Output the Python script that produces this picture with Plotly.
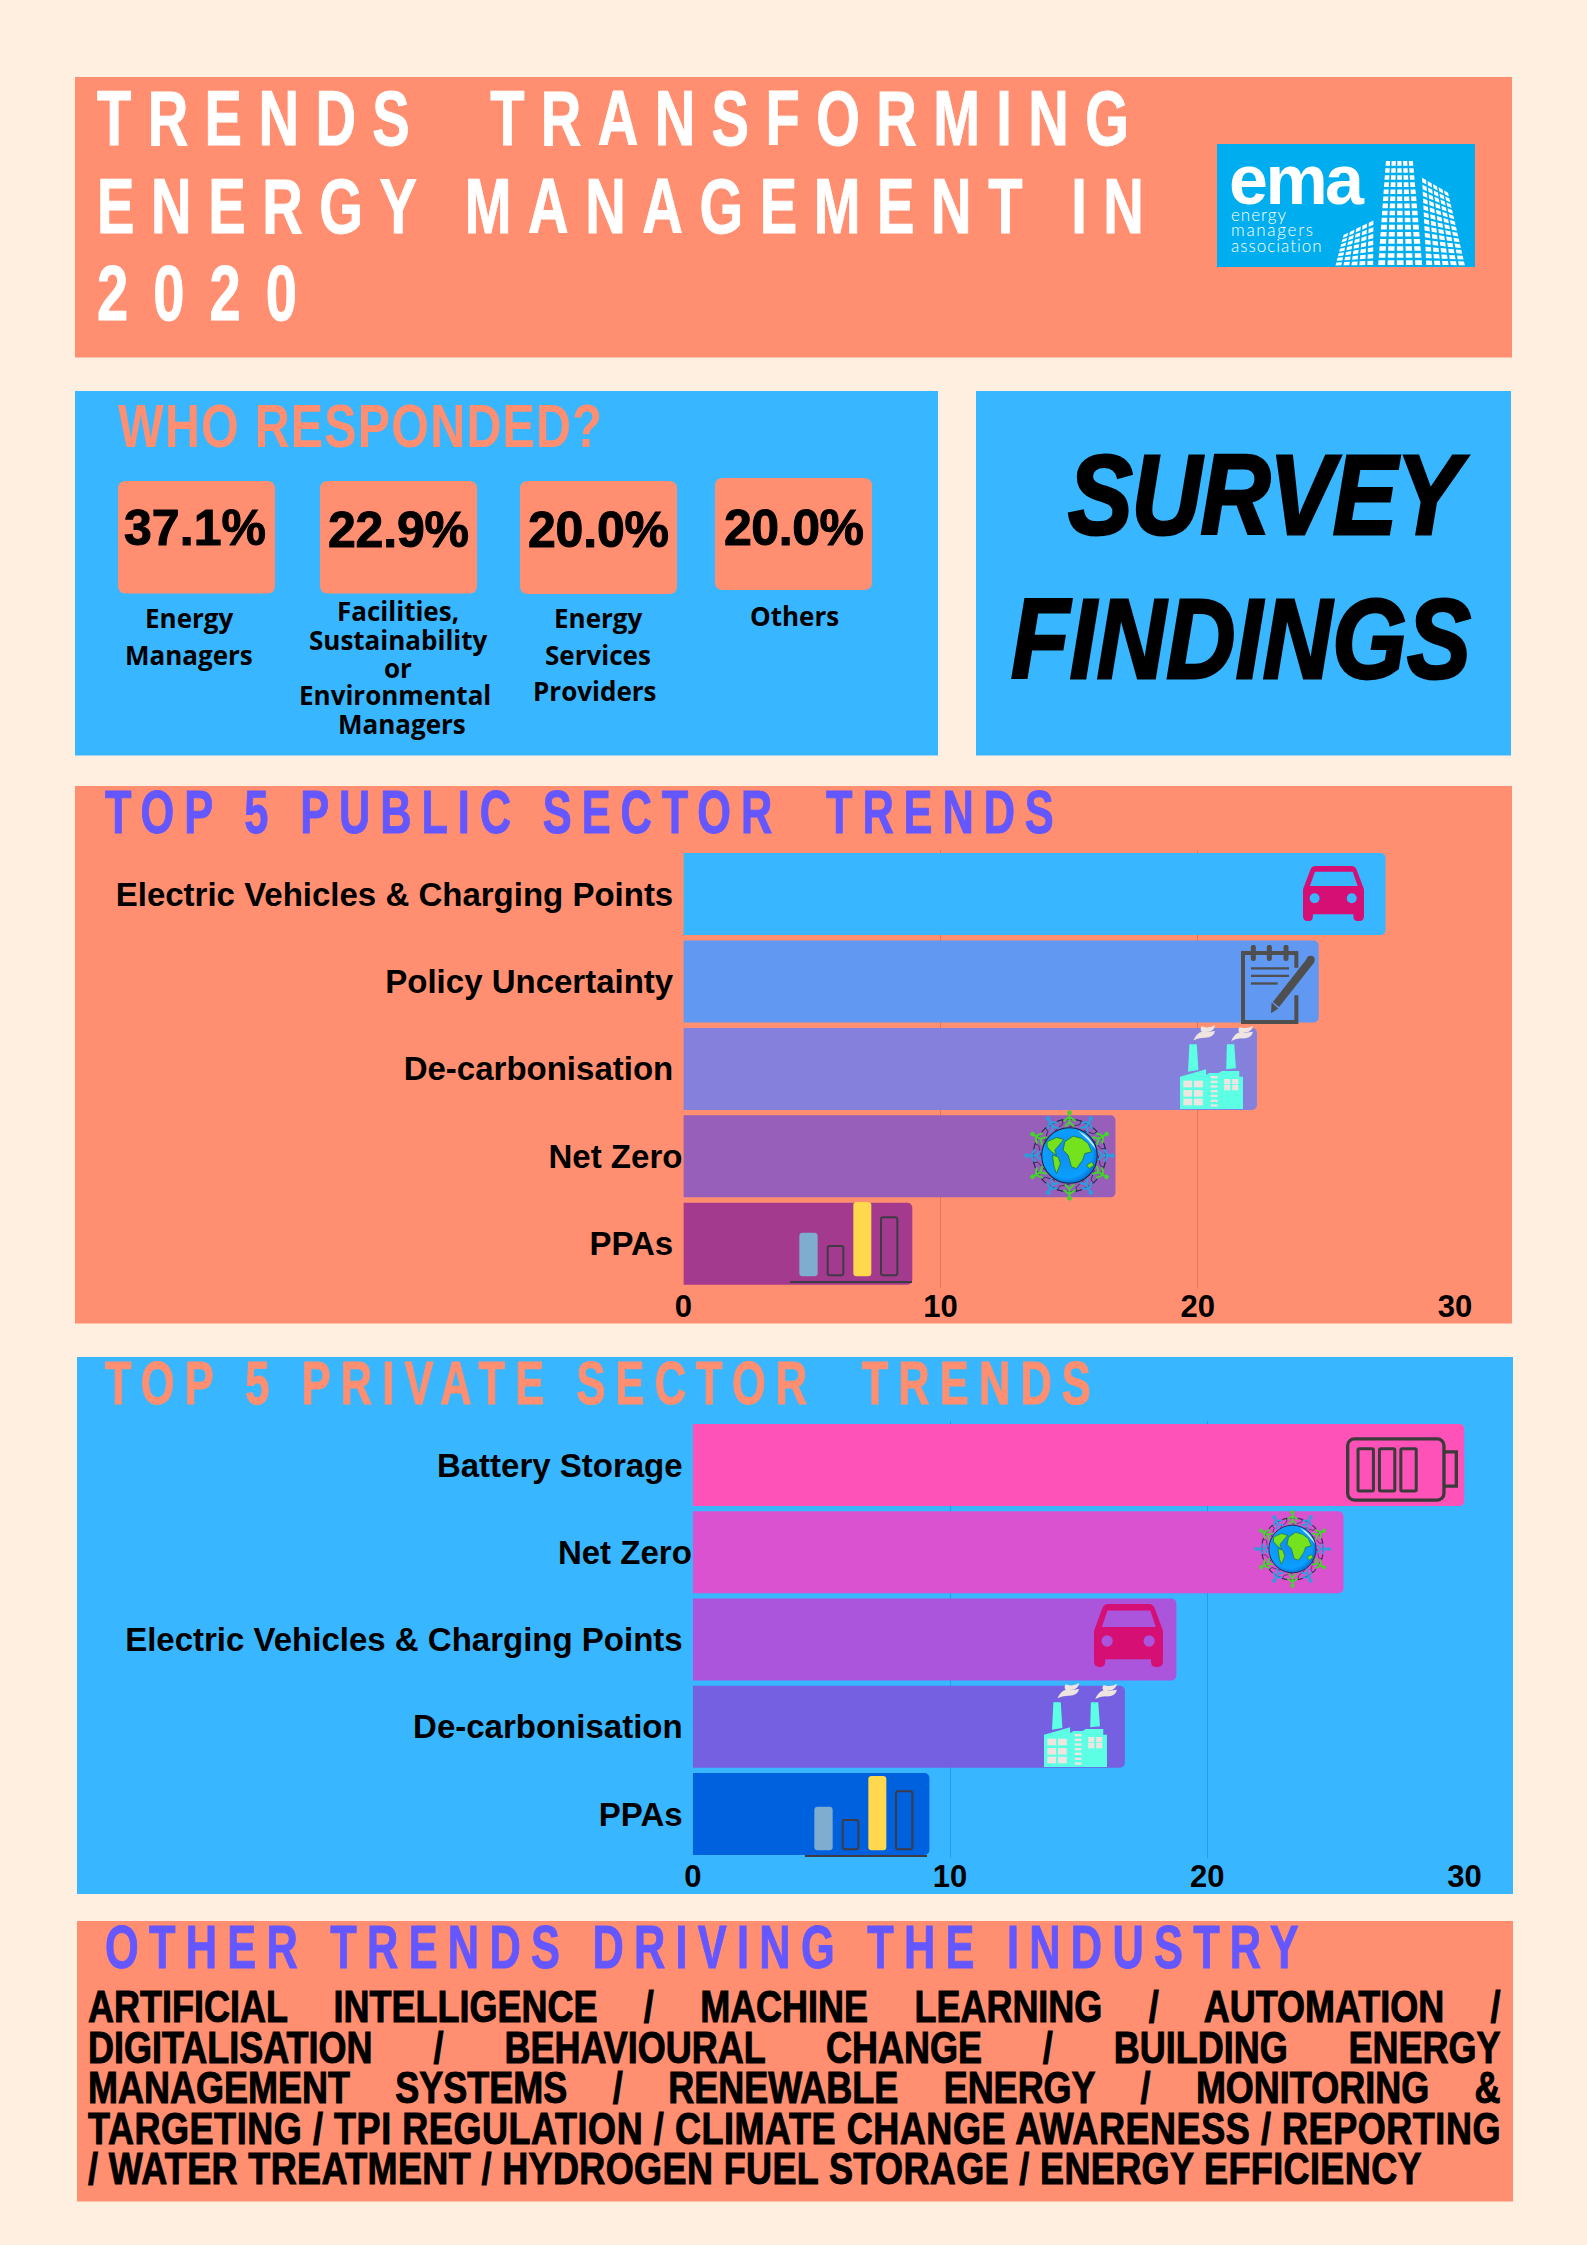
import base64
import json
import plotly.graph_objects as go

W, H = 1587, 2245
CREAM = "#FFEFE0"
CORAL = "#FF8F70"
SKY = "#38B6FF"
VIOLET = "#6457FF"
SANS = "Liberation Sans"
OPEN = "Open Sans"

# survey values
public_trends = ["Electric Vehicles & Charging Points\u00a0", "Policy Uncertainty\u00a0",
                 "De-carbonisation\u00a0", "Net Zero", "PPAs\u00a0"]
public_values = [27.3, 24.7, 22.3, 16.8, 8.9]
public_colors = ["#38B6FF", "#6199F2", "#8480DC", "#975FB9", "#A33A8D"]

private_trends = ["Battery Storage\u00a0", "Net Zero", "Electric Vehicles & Charging Points\u00a0",
                  "De-carbonisation\u00a0", "PPAs\u00a0"]
private_values = [30.0, 25.3, 18.8, 16.8, 9.2]
private_colors = ["#FF52B8", "#DB52D1", "#AB55DC", "#7460E1", "#0061DF"]

x_ticks = [0, 10, 20, 30]

respondent_shares = ["37.1%", "22.9%", "20.0%", "20.0%"]
title_lines = ["TRENDS \u00a0TRANSFORMING", "ENERGY MANAGEMENT IN", "2020"]
other_trends = ["ARTIFICIAL INTELLIGENCE / MACHINE LEARNING / AUTOMATION /",
                "DIGITALISATION / BEHAVIOURAL CHANGE / BUILDING ENERGY",
                "MANAGEMENT SYSTEMS / RENEWABLE ENERGY / MONITORING &",
                "TARGETING / TPI REGULATION / CLIMATE CHANGE AWARENESS / REPORTING",
                "/ WATER TREATMENT / HYDROGEN FUEL STORAGE / ENERGY EFFICIENCY"]


def px(x):
    return x / W


def py(y):
    return 1 - y / H


annotations = []
fits = {}


def label(s, x, y, size, color="#000000", family=SANS, anchor="left", italic=False, weight="bold",
          width=None, mode="letter", stroke=0, squeeze=1):
    # x, y in page pixels, y is the middle of the capitals
    if width or stroke:
        fits[len(annotations)] = {"w": width, "mode": mode, "stroke": stroke, "color": color, "sx": squeeze}
    annotations.append(dict(text=s, x=px(x), y=py(y), xref="paper", yref="paper", showarrow=False,
                            xanchor=anchor, yanchor="middle", align=anchor, borderpad=0, borderwidth=0,
                            font=dict(family=family, size=size, color=color, weight=weight,
                                      style="italic" if italic else "normal")))


shapes = []


def panel(x0, y0, x1, y1, color):
    shapes.append(dict(type="rect", xref="paper", yref="paper", x0=px(x0), x1=px(x1), y0=py(y0), y1=py(y1),
                       fillcolor=color, line_width=0, layer="below"))


def round_box(x0, y0, x1, y1, color, r=8):
    d = (f"M{px(x0 + r)},{py(y0)} L{px(x1 - r)},{py(y0)} Q{px(x1)},{py(y0)} {px(x1)},{py(y0 + r)} "
         f"L{px(x1)},{py(y1 - r)} Q{px(x1)},{py(y1)} {px(x1 - r)},{py(y1)} "
         f"L{px(x0 + r)},{py(y1)} Q{px(x0)},{py(y1)} {px(x0)},{py(y1 - r)} "
         f"L{px(x0)},{py(y0 + r)} Q{px(x0)},{py(y0)} {px(x0 + r)},{py(y0)} Z")
    shapes.append(dict(type="path", path=d, xref="paper", yref="paper", fillcolor=color, line_width=0, layer="below"))


# ---- icons, drawn as small svg files -----
def svg(w, h, body):
    return (f'<svg xmlns="http://www.w3.org/2000/svg" width="{w}" height="{h}" viewBox="0 0 {w} {h}" '
            f'preserveAspectRatio="none">{body}</svg>')


def car_svg():
    body = ('<path fill-rule="evenodd" fill="#D60F74" d="M38 0 H146 Q158 0 162 12 L184 70 V150 Q184 165 170 165 H164 '
            'Q152 165 152 150 V145 H30 V150 Q30 165 18 165 H14 Q0 165 0 150 V70 L22 12 Q26 0 38 0 Z '
            'M36 17 L21 60 H165 L150 17 Z '
            'M20 97 A15 15 0 1 0 50 97 A15 15 0 1 0 20 97 Z M132 97 A15 15 0 1 0 162 97 A15 15 0 1 0 132 97 Z"/>')
    return svg(184, 165, body)


def notepad_svg():
    c = "#4F4F4F"
    body = (f'<path d="M166 68 V24 H6 V230 H166 V150" fill="none" stroke="{c}" stroke-width="12"/>')
    for sx in (37, 85, 135):
        body += f'<line x1="{sx}" y1="7" x2="{sx}" y2="40" stroke="{c}" stroke-width="15" stroke-linecap="round"/>'
    for x2, ly in ((144, 70), (144, 92), (110, 115)):
        body += f'<line x1="30" y1="{ly}" x2="{x2}" y2="{ly}" stroke="{c}" stroke-width="7"/>'
    body += (f'<line x1="210" y1="45" x2="105" y2="178" stroke="{c}" stroke-width="24"/>'
             f'<circle cx="209" cy="44" r="12" fill="{c}"/>'
             f'<path d="M92 172 L112 190 L90 204 Z" fill="{c}"/>')
    return svg(228, 236, body)


def factory_svg():
    cy, wh = "#5CFFE3", "#EEE5E0"
    body = (f'<path fill="{cy}" d="M0 155 L78 133 V150 L88 144 H115 L125 138 H177 V155 H188 V252 H0 Z"/>'
            f'<path fill="{cy}" d="M28 58 H50 L55 135 L24 140 Z M140 58 H162 L167 130 L138 133 Z"/>')
    for wx in (10, 42):
        for wy in (167, 195, 221):
            body += f'<rect x="{wx}" y="{wy}" width="26" height="20" fill="{wh}"/>'
    for wx in (132, 156):
        for wy in (162, 180):
            body += f'<rect x="{wx}" y="{wy}" width="18" height="16" fill="{wh}"/>'
    for wy in (153, 167, 181, 195, 209, 224, 238):
        body += f'<rect x="92" y="{wy}" width="20" height="7" fill="{wh}"/>'
    for ox, oy in ((40, 0), (153, 2)):
        body += (f'<path fill="{wh}" transform="translate({ox},{oy})" d="M25 4 Q45 12 65 0 Q62 18 44 20 Q38 20 35 22 '
                 f'L65 18 Q60 40 30 38 Q14 38 0 46 Q10 24 25 20 Q18 14 25 4 Z"/>')
    return svg(218, 252, body)


def chart_svg():
    k = "#3F3B45"
    body = (f'<rect x="28" y="92" width="55" height="131" rx="10" fill="#7FADCF"/>'
            f'<rect x="113" y="132" width="47" height="88" rx="6" fill="none" stroke="{k}" stroke-width="6"/>'
            f'<rect x="190" y="0" width="54" height="223" rx="10" fill="#FFD84D"/>'
            f'<rect x="273" y="46" width="49" height="174" rx="6" fill="none" stroke="{k}" stroke-width="6"/>'
            f'<line x1="0" y1="240" x2="366" y2="240" stroke="{k}" stroke-width="6"/>')
    return svg(366, 243, body)


def battery_svg():
    k = "#3B3B3B"
    body = (f'<rect x="8" y="9" width="288" height="188" rx="20" fill="none" stroke="{k}" stroke-width="10"/>'
            f'<path d="M298 49 H333 V154 H298" fill="none" stroke="{k}" stroke-width="10"/>')
    for cx in (39, 103, 167):
        body += f'<rect x="{cx}" y="39" width="46" height="130" rx="4" fill="none" stroke="{k}" stroke-width="9"/>'
    return svg(338, 206, body)


def globe_svg():
    cx, cy = 139, 136
    body = ('<defs><radialGradient id="g" cx="45%" cy="45%" r="60%"><stop offset="0%" stop-color="#0F8CF0"/>'
            '<stop offset="75%" stop-color="#0A9FFF"/><stop offset="100%" stop-color="#0060C8"/></radialGradient></defs>')
    for i in range(12):
        a = i * 30
        col = "#2A9FE0" if i % 2 else "#45D42E"
        t = f'transform="rotate({a} {cx} {cy})"'
        body += (f'<g {t}><g fill="none" stroke="#15233A" stroke-width="2">'
                 f'<path d="M{cx} {cy - 108} L{cx + 36} {cy - 104} L{cx + 30} {cy - 92} L{cx} {cy - 86}"/>'
                 f'<path d="M{cx} {cy - 108} L{cx - 36} {cy - 104}"/></g>'
                 f'<g stroke="{col}" stroke-width="6" fill="none" stroke-linecap="round">'
                 f'<path d="M{cx} {cy - 126} V{cy - 100} M{cx} {cy - 116} L{cx + 16} {cy - 104} M{cx} {cy - 116} L{cx - 16} {cy - 104}'
                 f' M{cx} {cy - 100} L{cx + 12} {cy - 88} M{cx} {cy - 100} L{cx - 12} {cy - 88}"/></g>'
                 f'<circle cx="{cx}" cy="{cy - 128}" r="7" fill="{col}"/></g>')
    body += f'<circle cx="{cx}" cy="{cy}" r="83" fill="url(#g)" stroke="#15233A" stroke-width="3"/>'
    land = ["M72 95 L100 82 L122 88 L108 105 L95 120 L100 135 L85 125 L72 110 Z",
            "M125 95 L150 78 L175 85 L195 100 L205 125 L185 130 L178 150 L160 175 L145 170 L135 135 L120 120 Z",
            "M88 135 L105 140 L112 160 L100 190 L93 170 Z",
            "M190 165 L205 155 L212 165 L198 175 Z"]
    for d in land:
        body += f'<path d="{d}" fill="#74E31E" stroke="#16603A" stroke-width="2"/>'
    body += '<path d="M165 62 Q205 80 218 118 Q196 88 165 62 Z" fill="#CFEFFF"/>'
    return svg(278, 272, body)


def logo_svg():
    # 3x zoom units, logo is 258 x 123 page pixels
    body = '<rect width="774" height="369" fill="#00AEEF"/>'

    def block(tl, tr, br, bl, cols, rows):
        out = ""
        for r in range(rows):
            for c in range(cols):
                pts = []
                for u, v in ((c + .12, r + .15), (c + .85, r + .15), (c + .85, r + .8), (c + .12, r + .8)):
                    u /= cols
                    v /= rows
                    xt = tl[0] + (tr[0] - tl[0]) * u
                    yt = tl[1] + (tr[1] - tl[1]) * u
                    xb = bl[0] + (br[0] - bl[0]) * u
                    yb = bl[1] + (br[1] - bl[1]) * u
                    pts.append(f"{xt + (xb - xt) * v:.1f},{yt + (yb - yt) * v:.1f}")
                out += f'<polygon points="{" ".join(pts)}" fill="#FFFFFF"/>'
        return out

    body += block((505, 48), (590, 48), (620, 367), (480, 367), 5, 15)
    body += block((613, 97), (695, 145), (748, 367), (625, 367), 5, 13)
    body += block((378, 272), (472, 225), (472, 367), (352, 367), 5, 7)
    return svg(774, 369, body)


def uri(s):
    return "data:image/svg+xml;base64," + base64.b64encode(s.encode()).decode()


images = []


def place(s, x0, y0, x1, y1):
    images.append(dict(source=uri(s), xref="paper", yref="paper", x=px(x0), y=py(y0), sizex=(x1 - x0) / W,
                       sizey=(y1 - y0) / H, xanchor="left", yanchor="top", sizing="stretch", layer="above"))


# ---- panels -----
panel(75, 77, 1512, 357.5, CORAL)
panel(75, 391, 938, 755.5, SKY)
panel(976, 391, 1511, 755.5, SKY)
panel(75, 786, 1512, 1323.5, CORAL)
panel(77, 1357, 1513, 1894, SKY)
panel(77, 1921, 1513, 2201.5, CORAL)

round_box(118, 481, 275, 593.5, CORAL)
round_box(320, 481, 477, 593.5, CORAL)
round_box(520, 481, 677, 594, CORAL)
round_box(715, 478, 872, 590, CORAL)

# ---- text -----
for line, y, w in zip(title_lines, (118.5, 206, 293), (1032, 1047, 200)):
    label(line, 97, y, 78, "#FFFFFF", width=w, stroke=1, squeeze=0.72)
label("WHO RESPONDED?", 118, 425.5, 62, CORAL, width=484, squeeze=0.78)

for share, x, y, w in zip(respondent_shares, (124, 328, 528, 724), (528, 530.5, 530.5, 528.5), (142, 141, 141, 140)):
    label(share, x, y, 50, width=w, stroke=1)

for s, x, y in [("Energy", 189, 618), ("Managers", 189, 654.5),
                ("Facilities,", 397.5, 611), ("Sustainability", 398, 639.5), ("or", 397.5, 668),
                ("Environmental", 395, 695), ("Managers", 402, 723.5),
                ("Energy", 598, 618), ("Services", 598, 654.5), ("Providers", 595, 691),
                ("Others", 794, 616.5)]:
    label(s, x, y, 26, family=OPEN, anchor="center")

label("SURVEY", 1068, 494, 114, italic=True, width=393, stroke=3, squeeze=0.85)
label("FINDINGS", 1011, 638.5, 114, italic=True, width=460, stroke=3, squeeze=0.84)

label("TOP 5 PUBLIC SECTOR \u00a0TRENDS", 105, 811, 62, VIOLET, width=949, stroke=1, squeeze=0.7)
label("TOP 5 PRIVATE SECTOR \u00a0TRENDS", 105, 1382, 62, CORAL, width=986, stroke=1, squeeze=0.7)
label("OTHER TRENDS DRIVING THE INDUSTRY", 105, 1946, 62, VIOLET, width=1194, stroke=1, squeeze=0.7)

for line, y, w, mode in zip(other_trends, (2006, 2047, 2087, 2128, 2168), (1413, 1413, 1413, 1413, 1334),
                            ("word", "word", "word", "letter", "letter")):
    label(line, 88, y, 45, width=w, mode=mode, stroke=1, squeeze=0.8)

# logo
place(logo_svg(), 1217, 144, 1475, 267)
label("ema", 1229, 180, 70, "#FFFFFF", SANS, width=135)
for s, y, w in zip(["energy", "managers", "association"], (215, 230, 246), (55, 82, 91)):
    label(s, 1231, y, 17, "#FFFFFF", "Lato", weight=300, width=w)

# icons on the bars
place(car_svg(), 1303, 866, 1364, 921)
place(notepad_svg(), 1241, 945, 1317, 1024)
place(factory_svg(), 1180, 1025, 1253, 1109)
place(globe_svg(), 1023, 1110, 1116, 1201)
place(chart_svg(), 790, 1202, 912, 1283)

place(battery_svg(), 1345, 1436, 1458, 1503)
place(globe_svg(), 1253, 1510, 1332, 1588)
place(car_svg(), 1094, 1604, 1163, 1667)
place(factory_svg(), 1044, 1683, 1117, 1767)
place(chart_svg(), 805, 1776, 927, 1857)

# ---- bars -----
fig = go.Figure()
fig.add_trace(go.Bar(x=public_values, y=public_trends, orientation="h", xaxis="x", yaxis="y",
                     marker=dict(color=public_colors, cornerradius=5, line_width=0), showlegend=False))
fig.add_trace(go.Bar(x=private_values, y=private_trends, orientation="h", xaxis="x2", yaxis="y2",
                     marker=dict(color=private_colors, cornerradius=5, line_width=0), showlegend=False))

tick_font = dict(family=SANS, size=31, color="#000000", weight="bold")
cat_font = dict(family=SANS, size=33, color="#000000", weight="bold")


def x_axis(x0, x1, anchor, grid):
    return dict(domain=[px(x0), px(x1)], range=[0, 30], tickvals=x_ticks, anchor=anchor, showgrid=True,
                gridcolor=grid, gridwidth=1, zeroline=False, showline=False, ticks="", tickfont=tick_font,
                automargin=False, ticklabelstandoff=-3, fixedrange=True)


def y_axis(y0, y1, anchor, cats):
    return dict(domain=[py(y1), py(y0)], type="category", categoryorder="array", categoryarray=cats[::-1],
                anchor=anchor, showgrid=False, zeroline=False, showline=False, ticks="", tickfont=cat_font,
                automargin=False, fixedrange=True)


fig.update_layout(
    width=W, height=H, margin=dict(l=0, r=0, t=0, b=0, pad=0),
    paper_bgcolor=CREAM, plot_bgcolor="rgba(0,0,0,0)", bargap=0.062, showlegend=False,
    xaxis=x_axis(683.4, 1455, "y", "rgba(150,70,50,0.3)"),
    yaxis=y_axis(850.3, 1287.5, "x", public_trends),
    xaxis2=x_axis(692.8, 1464.4, "y2", "rgba(0,70,160,0.25)"),
    yaxis2=y_axis(1421.4, 1857.6, "x2", private_trends),
    annotations=annotations, shapes=shapes, images=images,
)

post = """
document.body.style.margin = '0';
document.documentElement.style.overflow = 'hidden';
var fits = %s;
document.querySelectorAll('g.annotation').forEach(function (g) {
  var f = fits[g.getAttribute('data-index')];
  if (!f) return;
  var t = g.querySelector('text');
  if (f.w) {
    var s = t.textContent, gap = f.w / f.sx - t.getComputedTextLength();
    if (f.mode === 'word') t.style.wordSpacing = (gap / (s.split(' ').length - 1)) + 'px';
    else t.style.letterSpacing = (gap / (s.length - 1)) + 'px';
  }
  if (f.sx !== 1) {
    var x0 = parseFloat(t.getAttribute('x')) || 0;
    t.setAttribute('transform', 'translate(' + x0 + ' 0) scale(' + f.sx + ' 1) translate(' + (-x0) + ' 0)');
  }
  if (f.stroke) { t.style.stroke = f.color; t.style.strokeWidth = f.stroke + 'px'; }
});
""" % json.dumps(fits)

fig.write_html("out.html", config={"displayModeBar": False}, post_script=post)
